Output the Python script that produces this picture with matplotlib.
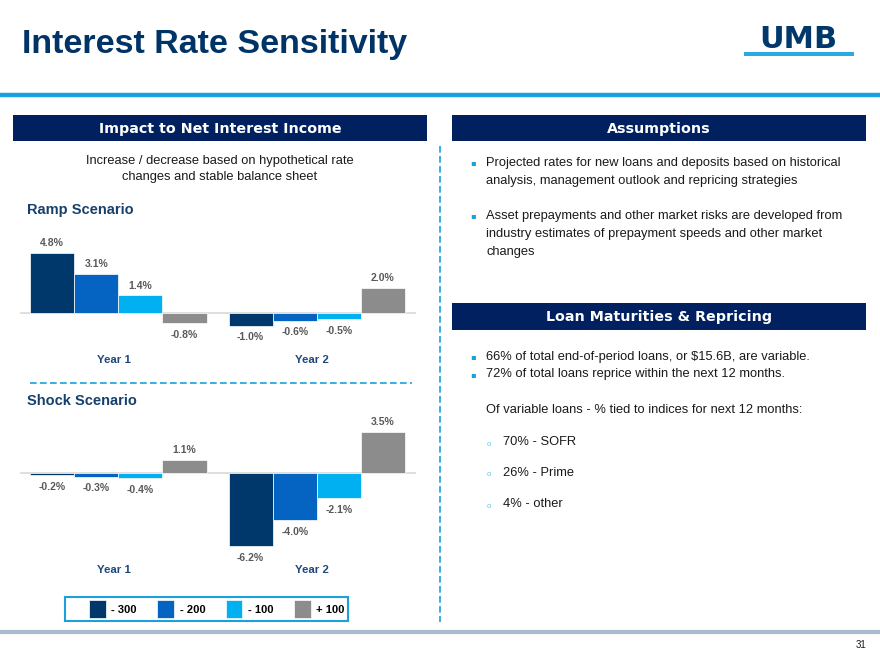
import matplotlib
matplotlib.use('Agg')
import matplotlib.pyplot as plt
from matplotlib.patches import Rectangle
from matplotlib.lines import Line2D

plt.rcParams['font.family'] = ['Liberation Sans', 'DejaVu Sans']

# data
years = ['Year 1', 'Year 2']
scenarios = ['- 300', '- 200', '- 100', '+ 100']
ramp = [[4.8, 3.1, 1.4, -0.8], [-1.0, -0.6, -0.5, 2.0]]
shock = [[-0.2, -0.3, -0.4, 1.1], [-6.2, -4.0, -2.1, 3.5]]
bar_colors = ['#00386B', '#0563C1', '#00B0F0', '#8C8C8C']

assumptions = [
    ['Projected rates for new loans and deposits based on historical',
     'analysis, management outlook and repricing strategies'],
    ['Asset prepayments and other market risks are developed from',
     'industry estimates of prepayment speeds and other market',
     'changes'],
]
loan_bullets = ['66% of total end-of-period loans, or $15.6B, are variable.',
                '72% of total loans reprice within the next 12 months.']
indices = ['70% - SOFR', '26% - Prime', '4% - other']

NAVY = '#002060'
TITLE = '#003366'
SCEN = '#17406D'
LBLUE = '#1AA0DC'
TXT = '#1A1A1A'

W, H = 880, 660
fig = plt.figure(figsize=(8.8, 6.6), dpi=100)


def fx(x):
    return x / W


def fy(y):
    return 1 - y / H


def box(x0, y0, x1, y1, text):
    fig.add_artist(Rectangle((fx(x0), fy(y1)), fx(x1 - x0), (y1 - y0) / H,
                             transform=fig.transFigure, color=NAVY, lw=0))
    fig.text(fx((x0 + x1) / 2), fy((y0 + y1) / 2 + 1), text, color='white',
             ha='center', va='center', fontsize=10.3, fontweight='bold',
             family='DejaVu Sans')


def hline(x0, x1, y, **kw):
    fig.add_artist(Line2D([fx(x0), fx(x1)], [fy(y), fy(y)],
                          transform=fig.transFigure, **kw))


# title and logo
fig.text(fx(22), fy(45), 'Interest Rate Sensitivity', fontsize=24.5,
         fontweight='bold', color=TITLE, va='center')
fig.text(fx(798), fy(40), 'UMB', fontsize=22, fontweight='bold',
         color='#00386B', ha='center', va='center', family='DejaVu Sans')
fig.add_artist(Rectangle((fx(744), fy(56)), fx(110), 4 / H,
                         transform=fig.transFigure, color='#29ABE2', lw=0))
hline(0, W, 95, color=LBLUE, lw=3.2)
hline(0, W, 632, color='#A9BCD0', lw=3)
fig.text(fx(866), fy(645), '31', fontsize=7, ha='right', va='center',
         color=TXT)

# section headers
box(13, 115, 427, 141, 'Impact to Net Interest Income')
box(452, 115, 866, 141, 'Assumptions')
box(452, 303, 866, 330, 'Loan Maturities & Repricing')

# dashed separators
fig.add_artist(Line2D([fx(440), fx(440)], [fy(146), fy(622)],
                      transform=fig.transFigure, color=LBLUE, lw=1.2,
                      dashes=(4, 2)))
hline(30, 412, 383, color=LBLUE, lw=1.2, dashes=(4, 2))

fig.text(fx(220), fy(161), 'Increase / decrease based on hypothetical rate',
         ha='center', va='center', fontsize=9.25, color=TXT)
fig.text(fx(220), fy(177), 'changes and stable balance sheet',
         ha='center', va='center', fontsize=9.25, color=TXT)
fig.text(fx(27), fy(210), 'Ramp Scenario', fontsize=10.5, fontweight='bold',
         color=SCEN, va='center')
fig.text(fx(27), fy(401), 'Shock Scenario', fontsize=10.5, fontweight='bold',
         color=SCEN, va='center')


def bars(ax, data, ylim, ylab):
    handles = []
    for i in range(4):
        xs = [g * 4.5 + i for g in range(2)]
        vals = [data[g][i] for g in range(2)]
        b = ax.bar(xs, vals, width=1.0, color=bar_colors[i],
                   edgecolor='white', linewidth=0.5)
        handles.append(b)
        for x, v in zip(xs, vals):
            ax.annotate(f'{v:.1f}%', (x, v),
                        xytext=(0, 7 if v > 0 else -8.5),
                        textcoords='offset points', ha='center', va='center',
                        fontsize=7.5, fontweight='bold', color='#595959')
    ax.axhline(0, color='#D9D9D9', lw=1.2, zorder=0)
    ax.set_xlim(-0.73, 8.25)
    ax.set_ylim(*ylim)
    ax.axis('off')
    for g, yr in enumerate(years):
        ax.text(g * 4.5 + 1.4, ylab, yr, ha='center', va='center',
                fontsize=8.25, fontweight='bold', color='#1F497D')
    return handles


ax1 = fig.add_axes([fx(20), fy(345), fx(396), 110 / H])
bars(ax1, ramp, (-32 / 12.6, 78 / 12.6), -47 / 12.6)

ax2 = fig.add_axes([fx(20), fy(555), fx(396), 135 / H])
handles = bars(ax2, shock, (-82 / 11.8, 53 / 11.8), -97 / 11.8)

# legend with its own frame
fig.add_artist(Rectangle((fx(65), fy(621)), fx(283), 24 / H,
                         transform=fig.transFigure, facecolor='white',
                         edgecolor=LBLUE, lw=1.5))
fig.legend(handles, scenarios, ncol=4, loc='center left',
           bbox_to_anchor=(fx(89), fy(609)), frameon=False,
           handlelength=1.5, handleheight=2.0, columnspacing=1.85,
           handletextpad=0.5, borderpad=0, borderaxespad=0,
           prop=dict(weight='bold', size=8))

# right column text
bx, tx = 473, 486
lh = 18
y = 163
for item in assumptions:
    fig.text(fx(bx), fy(y), '\u25aa', color=LBLUE, fontsize=6,
             ha='center', va='center', family='DejaVu Sans')
    for k, line in enumerate(item):
        fig.text(fx(tx), fy(y + k * lh), line, fontsize=9.25, color=TXT,
                 va='center')
    y += 53

for k, line in enumerate(loan_bullets):
    yy = 357 + k * 17.5
    fig.text(fx(bx), fy(yy), '\u25aa', color=LBLUE, fontsize=6,
             ha='center', va='center', family='DejaVu Sans')
    fig.text(fx(tx), fy(yy), line, fontsize=9.25, color=TXT, va='center')

fig.text(fx(tx), fy(410), 'Of variable loans - % tied to indices for next 12 months:',
         fontsize=9.25, color=TXT, va='center')
for k, line in enumerate(indices):
    yy = 442 + k * 31
    fig.text(fx(489), fy(yy + 2), 'o', color='#5BC0EB', fontsize=5.5,
             ha='center', va='center')
    fig.text(fx(503), fy(yy), line, fontsize=9.25, color=TXT, va='center')

fig.savefig('out.png', dpi=100)
